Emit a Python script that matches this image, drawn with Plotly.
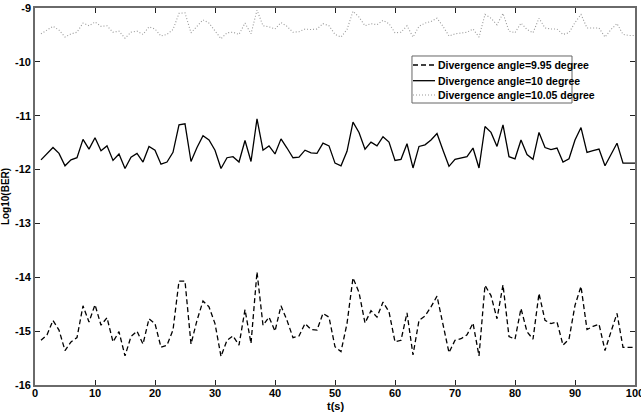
import plotly.graph_objects as go

t = list(range(1, 101))

ber_995 = [
    -15.17, -15.07, -14.80, -14.98, -15.36, -15.20, -15.12, -14.53, -14.83, -14.51,
    -14.89, -14.75, -15.20, -15.01, -15.46, -15.10, -15.00, -15.24, -14.77, -14.86,
    -15.30, -15.26, -14.98, -14.07, -14.07, -15.24, -14.80, -14.44, -14.55, -14.86,
    -15.47, -15.17, -15.09, -15.26, -14.60, -15.23, -13.90, -14.89, -14.74, -15.00,
    -14.53, -14.80, -15.12, -15.09, -14.86, -14.97, -14.98, -14.67, -14.74, -15.29,
    -15.38, -14.86, -14.01, -14.28, -14.85, -14.62, -14.74, -14.46, -14.64, -15.20,
    -15.17, -14.66, -15.44, -14.80, -14.72, -14.55, -14.35, -14.86, -15.40, -15.17,
    -15.14, -15.07, -14.85, -15.46, -14.15, -14.34, -14.77, -14.14, -15.10, -15.15,
    -14.58, -15.01, -15.15, -14.30, -14.80, -14.86, -14.83, -15.26, -15.15, -14.52,
    -14.17, -14.97, -14.91, -14.87, -15.36, -15.01, -14.67, -15.30, -15.30, -15.30,
]

ber_10 = [
    -11.82, -11.71, -11.59, -11.70, -11.93, -11.82, -11.78, -11.44, -11.62, -11.41,
    -11.65, -11.56, -11.83, -11.71, -11.98, -11.77, -11.70, -11.86, -11.57, -11.64,
    -11.90, -11.86, -11.68, -11.17, -11.15, -11.85, -11.59, -11.37, -11.45, -11.64,
    -11.98, -11.78, -11.76, -11.86, -11.46, -11.85, -11.06, -11.64, -11.56, -11.71,
    -11.43, -11.60, -11.78, -11.77, -11.64, -11.69, -11.70, -11.51, -11.56, -11.88,
    -11.93, -11.66, -11.12, -11.31, -11.62, -11.49, -11.56, -11.39, -11.49, -11.83,
    -11.81, -11.52, -11.97, -11.57, -11.54, -11.45, -11.33, -11.64, -11.94, -11.81,
    -11.78, -11.76, -11.60, -11.97, -11.20, -11.31, -11.57, -11.17, -11.76, -11.80,
    -11.45, -11.72, -11.81, -11.31, -11.59, -11.63, -11.60, -11.86, -11.80, -11.45,
    -11.22, -11.68, -11.65, -11.62, -11.93, -11.71, -11.51, -11.88, -11.88, -11.88,
]

ber_1005 = [
    -9.48, -9.41, -9.34, -9.41, -9.54, -9.48, -9.45, -9.28, -9.33, -9.26,
    -9.34, -9.33, -9.45, -9.43, -9.56, -9.45, -9.43, -9.49, -9.35, -9.39,
    -9.52, -9.49, -9.40, -9.10, -9.09, -9.46, -9.33, -9.22, -9.28, -9.43,
    -9.57, -9.46, -9.45, -9.49, -9.28, -9.48, -9.04, -9.33, -9.35, -9.39,
    -9.27, -9.34, -9.45, -9.44, -9.39, -9.40, -9.39, -9.29, -9.33, -9.49,
    -9.54, -9.40, -9.06, -9.17, -9.33, -9.29, -9.31, -9.23, -9.29, -9.46,
    -9.45, -9.33, -9.54, -9.34, -9.28, -9.25, -9.19, -9.34, -9.52, -9.48,
    -9.46, -9.45, -9.39, -9.54, -9.12, -9.19, -9.31, -9.10, -9.43, -9.46,
    -9.28, -9.40, -9.46, -9.19, -9.37, -9.39, -9.39, -9.49, -9.46, -9.27,
    -9.12, -9.37, -9.37, -9.37, -9.54, -9.40, -9.29, -9.49, -9.51, -9.51,
]

names = [
    "Divergence angle=9.95 degree",
    "Divergence angle=10 degree",
    "Divergence angle=10.05 degree",
]

x_ticks = [0, 10, 20, 30, 40, 50, 60, 70, 80, 90, 100]
y_ticks = [-16, -15, -14, -13, -12, -11, -10, -9]

FONT = "Liberation Sans Narrow, Liberation Sans, Arial"

styles = [
    dict(color="black", width=1.3, dash="5px,3px"),
    dict(color="black", width=1.3),
    dict(color="#999999", width=1.1, dash="1px,2px"),
]

fig = go.Figure()
for yv, nm, st in zip([ber_995, ber_10, ber_1005], names, styles):
    fig.add_trace(go.Scatter(x=t, y=yv, mode="lines", name=nm, line=st,
                             showlegend=False))

axis_common = dict(
    showgrid=False, zeroline=False, showline=True, linecolor="#6a6a6a",
    linewidth=1.6, mirror="ticks", ticks="inside", ticklen=5,
    tickcolor="#222222", tickwidth=1.3, ticklabeloverflow="allow",
    automargin=False,
    tickfont=dict(family=FONT, size=11, color="black", weight="bold"),
)

fig.update_layout(
    width=641, height=412,
    margin=dict(l=35, r=6, t=8, b=27, autoexpand=False),
    paper_bgcolor="white", plot_bgcolor="white",
    font=dict(family=FONT, size=10, color="black", weight="bold"),
    xaxis=dict(range=[0, 100], tickvals=x_ticks, ticktext=[str(v) for v in x_ticks],
               ticklabelstandoff=-3, **axis_common),
    yaxis=dict(range=[-16, -9], tickvals=y_ticks, ticktext=[str(v) for v in y_ticks],
               title=dict(text="Log10(BER)", standoff=4,
                          font=dict(family="Liberation Sans", size=10, weight="bold")),
               **axis_common),
    showlegend=False,
)

# x-axis title placed just below the tick labels
fig.add_annotation(xref="paper", yref="paper", x=0.5, y=-0.056, text="t(s)",
                   showarrow=False, xanchor="center", yanchor="middle",
                   font=dict(family=FONT, size=11, color="black", weight="bold"))

# Hand-drawn legend box (paper coordinates)
box = dict(x0=0.6283, x1=0.895, y0=0.748, y1=0.8727)
fig.add_shape(type="rect", xref="paper", yref="paper", **box,
              line=dict(color="#666666", width=1), fillcolor="white", layer="above")
rows_y = [0.8488, 0.8072, 0.7692]
for ry, nm, st in zip(rows_y, names, styles):
    fig.add_shape(type="line", xref="paper", yref="paper",
                  x0=0.630, x1=0.6667, y0=ry, y1=ry,
                  line=dict(color=st["color"], width=st["width"],
                            dash=st.get("dash", "solid")), layer="above")
    fig.add_annotation(xref="paper", yref="paper", x=0.668, y=ry, text=nm,
                       showarrow=False, xanchor="left", yanchor="middle",
                       font=dict(family=FONT, size=10.5, color="black", weight="bold"))

fig.write_html("out.html")
